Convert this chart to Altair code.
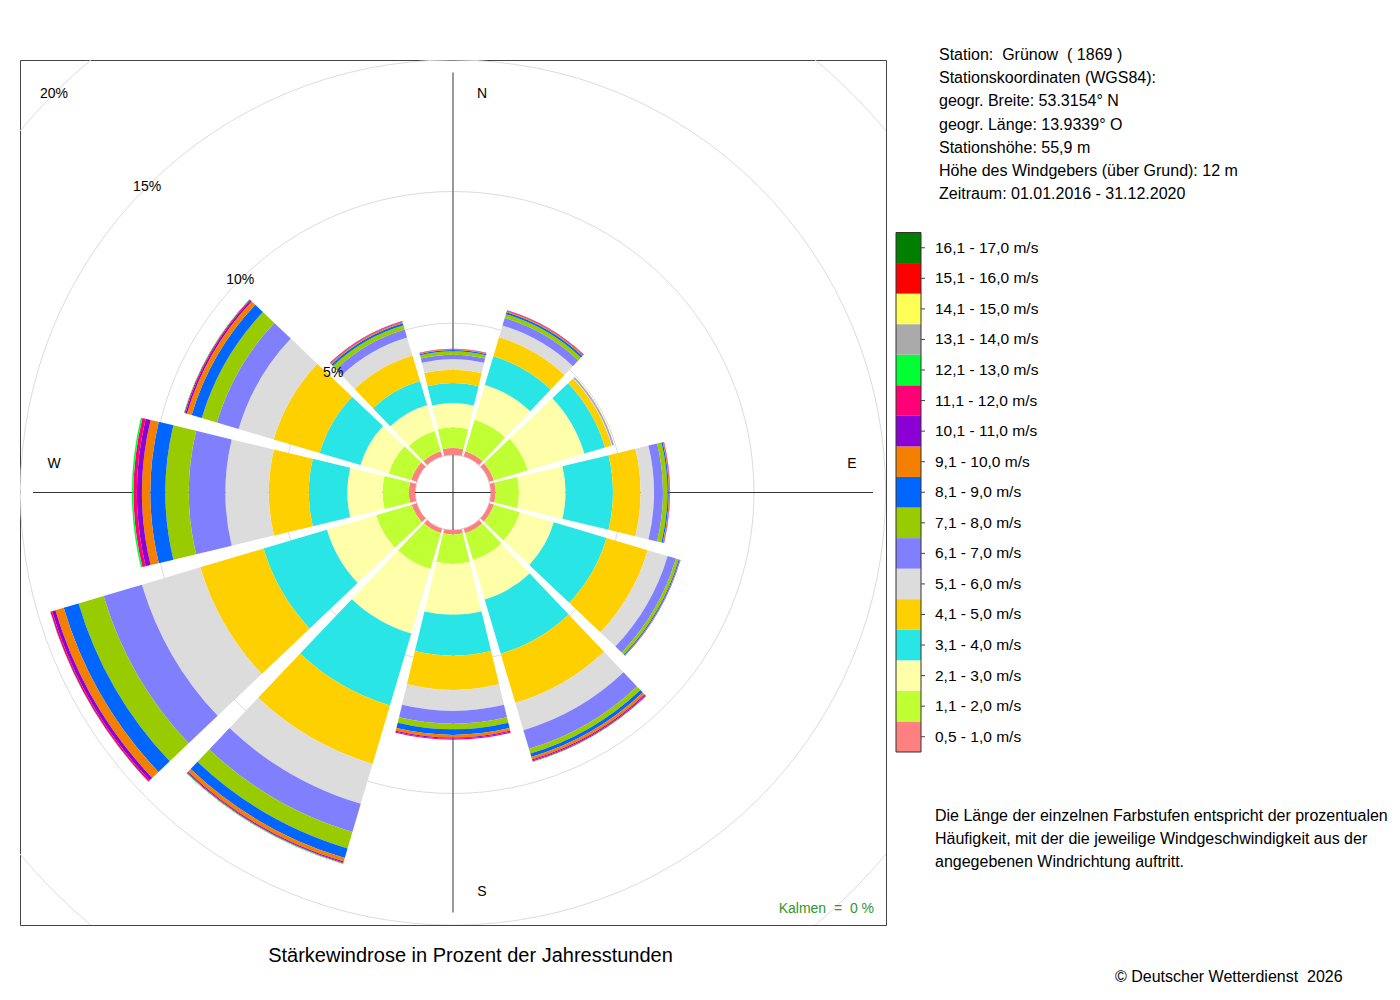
import math
import altair as alt
import pandas as pd

# ---------------- Daten ----------------
richtungen = [0, 30, 60, 90, 120, 150, 180, 210, 240, 270, 300, 330]

klassen = ["0,5 - 1,0 m/s", "1,1 - 2,0 m/s", "2,1 - 3,0 m/s", "3,1 - 4,0 m/s",
           "4,1 - 5,0 m/s", "5,1 - 6,0 m/s", "6,1 - 7,0 m/s", "7,1 - 8,0 m/s",
           "8,1 - 9,0 m/s", "9,1 - 10,0 m/s", "10,1 - 11,0 m/s", "11,1 - 12,0 m/s",
           "12,1 - 13,0 m/s", "13,1 - 14,0 m/s", "14,1 - 15,0 m/s", "15,1 - 16,0 m/s",
           "16,1 - 17,0 m/s"]

farben = ["#FF8080", "#BFFF33", "#FFFFAA", "#2AE5E5", "#FFD000", "#DCDCDC",
          "#8080FF", "#99CC00", "#0066FF", "#F58000", "#8B00D5", "#FF0077",
          "#00FF33", "#AAAAAA", "#FFFF55", "#FF0000", "#007F00"]

# Haeufigkeit (% der Jahresstunden) je Richtung und Klasse (0,5-1,0 ... 12,1-13,0 m/s)
h_n   = [0.25, 0.79, 0.92, 0.76, 0.51, 0.40, 0.17, 0.13, 0.05, 0.02, 0.01, 0.01, 0.00]
h_nne = [0.20, 1.25, 1.37, 1.14, 0.76, 0.46, 0.30, 0.15, 0.08, 0.04, 0.02, 0.02, 0.00]
h_ene = [0.18, 1.35, 2.24, 0.82, 0.26, 0.03, 0.03, 0.01, 0.01, 0.01, 0.00, 0.00, 0.00]
h_e   = [0.18, 0.89, 1.77, 1.80, 1.05, 0.51, 0.34, 0.17, 0.05, 0.03, 0.01, 0.01, 0.00]
h_ese = [0.18, 1.03, 1.35, 2.09, 1.63, 0.79, 0.33, 0.11, 0.04, 0.02, 0.01, 0.00, 0.00]
h_sse = [0.18, 1.06, 1.56, 2.15, 1.95, 1.08, 0.74, 0.19, 0.13, 0.10, 0.04, 0.04, 0.02]
h_s   = [0.16, 1.11, 1.94, 1.55, 1.30, 0.80, 0.49, 0.21, 0.21, 0.10, 0.04, 0.04, 0.00]
h_ssw = [0.17, 1.43, 2.55, 2.85, 2.32, 1.58, 1.12, 0.65, 0.38, 0.14, 0.04, 0.03, 0.02]
h_wsw = [0.20, 1.41, 1.95, 2.51, 2.51, 2.31, 1.52, 0.99, 0.59, 0.33, 0.13, 0.07, 0.01]
h_w   = [0.24, 1.00, 1.34, 1.46, 1.52, 1.65, 1.39, 0.89, 0.57, 0.32, 0.19, 0.13, 0.06]
h_wnw = [0.22, 0.89, 1.12, 1.62, 1.82, 1.39, 0.86, 0.60, 0.40, 0.19, 0.06, 0.04, 0.02]
h_nnw = [0.20, 0.80, 1.03, 0.95, 1.01, 0.72, 0.31, 0.17, 0.08, 0.05, 0.02, 0.02, 0.00]
haeufigkeit = [h_n, h_nne, h_ene, h_e, h_ese, h_sse, h_s, h_ssw, h_wsw, h_w, h_wnw, h_nnw]

ringe = [5, 10, 15, 20]
ring_labels = ["5%", "10%", "15%", "20%"]
himmelsrichtungen_ns = ["N", "S"]
himmelsrichtungen_ew = ["E", "W"]

info_zeilen = ["Station:\u00a0 Grünow\u00a0 ( 1869 )",
               "Stationskoordinaten (WGS84):",
               "geogr. Breite: 53.3154° N",
               "geogr. Länge: 13.9339° O",
               "Stationshöhe: 55,9 m",
               "Höhe des Windgebers (über Grund): 12 m",
               "Zeitraum: 01.01.2016 - 31.12.2020"]
beschreibung = ["Die Länge der einzelnen Farbstufen entspricht der prozentualen",
                "Häufigkeit, mit der die jeweilige Windgeschwindigkeit aus der",
                "angegebenen Windrichtung auftritt."]
titel = "Stärkewindrose in Prozent der Jahresstunden"
copyright_text = "© Deutscher Wetterdienst\u00a0 2026"
kalmen_text = "Kalmen\u00a0 =\u00a0 0 %"

# ---------------- Layout ----------------
FONT = "Liberation Sans"
W, H = 866, 865
CX, CY = W / 2, H / 2
R0, K = 37.8, 26.32          # Innenradius (px) und px je Prozent
SEKTOR_HALB = 13.5           # halbe Sektorbreite in Grad
L = 420                      # Laenge der Achsenkreuz-Arme
LEG_X0, LEG_X1 = 876, 901
LEG_Y0, LEG_Y1 = 172.5, 692

theta_scale = alt.Scale(domain=[0, 360], range=[0, 2 * math.pi], nice=False, zero=False)
radius_scale = alt.Scale(type="linear", domain=[0, 20], range=[R0, R0 + 20 * K],
                         nice=False, zero=False)
color_scale = alt.Scale(domain=klassen, range=farben)
legend_y = alt.Scale(domain=klassen[::-1], range=[LEG_Y0, LEG_Y1],
                     paddingInner=0, paddingOuter=0)

rows = []
for d, werte in zip(richtungen, haeufigkeit):
    cum = 0.0
    for k, v in zip(klassen, werte):
        if v > 0:
            rows.append(dict(richtung=d, klasse=k, t0=d - SEKTOR_HALB,
                             t1=d + SEKTOR_HALB, r0=cum, r1=cum + v))
        cum += v
df = pd.DataFrame(rows)

one = pd.DataFrame({"a": [0]})

grid = alt.Chart(pd.DataFrame({"pct": ringe, "t0": 0, "t1": 360})).mark_arc(
    clip=True, fillOpacity=0, stroke="#DCDCDC", strokeWidth=1
).encode(
    theta=alt.Theta("t0:Q", scale=theta_scale),
    theta2="t1:Q",
    radius=alt.Radius("pct:Q", scale=radius_scale),
)

vline = alt.Chart(one).mark_rule(color="#777777", strokeWidth=1.5).encode(
    x=alt.value(CX), y=alt.value(CY - L), y2=alt.value(CY + L))
hline = alt.Chart(one).mark_rule(color="#333333", strokeWidth=1).encode(
    x=alt.value(CX - L), x2=alt.value(CX + L), y=alt.value(CY))

bars = alt.Chart(df).mark_arc(strokeWidth=0).encode(
    theta=alt.Theta("t0:Q", scale=theta_scale),
    theta2="t1:Q",
    radius=alt.Radius("r0:Q", scale=radius_scale),
    radius2="r1:Q",
    color=alt.Color("klasse:N", scale=color_scale, legend=None),
)

pct_labels = alt.Chart(pd.DataFrame({"pct": ringe, "label": ring_labels, "t": 315})).mark_text(
    font=FONT, fontSize=14, color="black", baseline="middle"
).encode(
    theta=alt.Theta("t:Q", scale=theta_scale),
    radius=alt.Radius("pct:Q", scale=radius_scale),
    text="label:N",
)

ns_labels = alt.Chart(pd.DataFrame({"t": [0, 180], "label": himmelsrichtungen_ns})).mark_text(
    font=FONT, fontSize=14, color="black", baseline="middle", dx=29
).encode(theta=alt.Theta("t:Q", scale=theta_scale), radius=alt.value(399), text="label:N")
ew_labels = alt.Chart(pd.DataFrame({"t": [90, 270], "label": himmelsrichtungen_ew})).mark_text(
    font=FONT, fontSize=14, color="black", baseline="middle", dy=-29
).encode(theta=alt.Theta("t:Q", scale=theta_scale), radius=alt.value(399), text="label:N")

kalmen = alt.Chart(one).mark_text(
    font=FONT, fontSize=14, color="#2E962E", align="right", baseline="alphabetic"
).encode(x=alt.value(854), y=alt.value(852.7), text=alt.value(kalmen_text))

leg_df = pd.DataFrame({"klasse": klassen})
leg_rect = alt.Chart(leg_df).mark_rect().encode(
    y=alt.Y("klasse:N", scale=legend_y, axis=None),
    x=alt.value(LEG_X0), x2=alt.value(LEG_X1),
    color=alt.Color("klasse:N", scale=color_scale, legend=None),
)
leg_border = alt.Chart(one).mark_rect(fillOpacity=0, stroke="#333333", strokeWidth=1).encode(
    x=alt.value(LEG_X0), x2=alt.value(LEG_X1), y=alt.value(LEG_Y0), y2=alt.value(LEG_Y1))
leg_ticks = alt.Chart(leg_df).mark_rule(color="#444444", strokeWidth=1).encode(
    y=alt.Y("klasse:N", scale=legend_y, axis=None),
    x=alt.value(LEG_X1), x2=alt.value(LEG_X1 + 4),
)
leg_text = alt.Chart(leg_df).mark_text(
    font=FONT, fontSize=15.5, color="black", align="left", baseline="middle"
).encode(
    y=alt.Y("klasse:N", scale=legend_y, axis=None),
    x=alt.value(915),
    text="klasse:N",
)

info = alt.Chart(one).mark_text(
    font=FONT, fontSize=16, color="black", align="left", baseline="alphabetic", lineHeight=23.2
).encode(x=alt.value(919), y=alt.value(0), text=alt.value(info_zeilen))

desc = alt.Chart(one).mark_text(
    font=FONT, fontSize=16, color="black", align="left", baseline="alphabetic", lineHeight=23
).encode(x=alt.value(915), y=alt.value(760.5), text=alt.value(beschreibung))

caption = alt.Chart(one).mark_text(
    font=FONT, fontSize=20, color="black", align="center", baseline="alphabetic"
).encode(x=alt.value(450.5), y=alt.value(901.5), text=alt.value(titel))

copyr = alt.Chart(one).mark_text(
    font=FONT, fontSize=16, color="black", align="left", baseline="alphabetic"
).encode(x=alt.value(1095), y=alt.value(921.5), text=alt.value(copyright_text))

chart = alt.layer(
    grid, vline, hline, bars, pct_labels, ns_labels, ew_labels, kalmen,
    leg_rect, leg_border, leg_ticks, leg_text, info, desc, caption, copyr
).properties(
    width=W, height=H,
    autosize=alt.AutoSizeParams(type="none"),
    padding={"left": 12, "top": 52, "right": 504, "bottom": 63},
).configure_view(stroke="#444444", strokeWidth=1)

chart.save("out.html", embed_options={"renderer": "svg", "actions": False})
